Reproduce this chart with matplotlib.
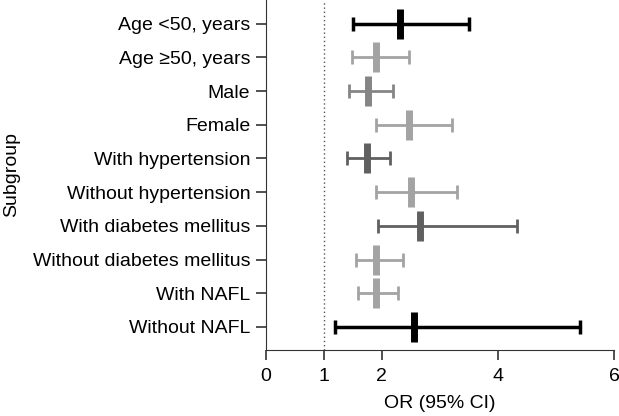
import matplotlib.pyplot as plt
import numpy as np

plt.rcParams['font.family'] = ['Liberation Sans', 'DejaVu Sans']

subgroups = ["Age <50, years", "Age \u226550, years", "Male", "Female",
             "With hypertension", "Without hypertension",
             "With diabetes mellitus", "Without diabetes mellitus",
             "With NAFL", "Without NAFL"]
odds = [2.32, 1.91, 1.77, 2.47, 1.74, 2.51, 2.66, 1.91, 1.91, 2.55]
ci_low = [1.51, 1.48, 1.43, 1.91, 1.41, 1.91, 1.94, 1.56, 1.60, 1.20]
ci_high = [3.51, 2.47, 2.20, 3.21, 2.15, 3.30, 4.33, 2.37, 2.28, 5.41]
colors = ["#000000", "#a3a3a3", "#858585", "#a3a3a3", "#606060",
          "#a3a3a3", "#606060", "#a3a3a3", "#a3a3a3", "#000000"]

fig = plt.figure(figsize=(6.19, 4.16), dpi=100)
ax = fig.add_axes([0.429, 0.159, 0.563, 0.841])

y = np.arange(len(subgroups), 0, -1)
for i in range(len(subgroups)):
    lw = 2.5 if colors[i] == "#000000" else 2.0
    ax.errorbar(odds[i], y[i], xerr=[[odds[i] - ci_low[i]], [ci_high[i] - odds[i]]],
                fmt='none', ecolor=colors[i], elinewidth=lw, capsize=5, capthick=lw)
    ax.plot(odds[i], y[i], marker='|', markersize=21, markeredgewidth=5,
            color=colors[i], linestyle='none')

# reference line at OR = 1
ax.axvline(1, color="#555555", linestyle=(0, (1, 2)), linewidth=1)

ax.set_xlim(0, 6)
ax.set_ylim(0.32, 10.7)
ax.set_xticks([0, 1, 2, 4, 6])
ax.set_yticks(y)
ax.set_yticklabels(subgroups)
ax.spines['top'].set_visible(False)
ax.spines['right'].set_visible(False)
ax.spines['left'].set_color('#333333')
ax.spines['bottom'].set_color('#333333')
ax.tick_params(axis='both', labelsize=14, length=7, width=1.2, color='#333333')
ax.tick_params(axis='x', pad=6)
ax.tick_params(axis='y', pad=4)
ax.set_xlabel("OR (95% CI)", fontsize=14, labelpad=7)
ax.set_ylabel("Subgroup", fontsize=14)
ax.yaxis.set_label_coords(-0.703, 0.5)

plt.savefig("out.png", dpi=100)
